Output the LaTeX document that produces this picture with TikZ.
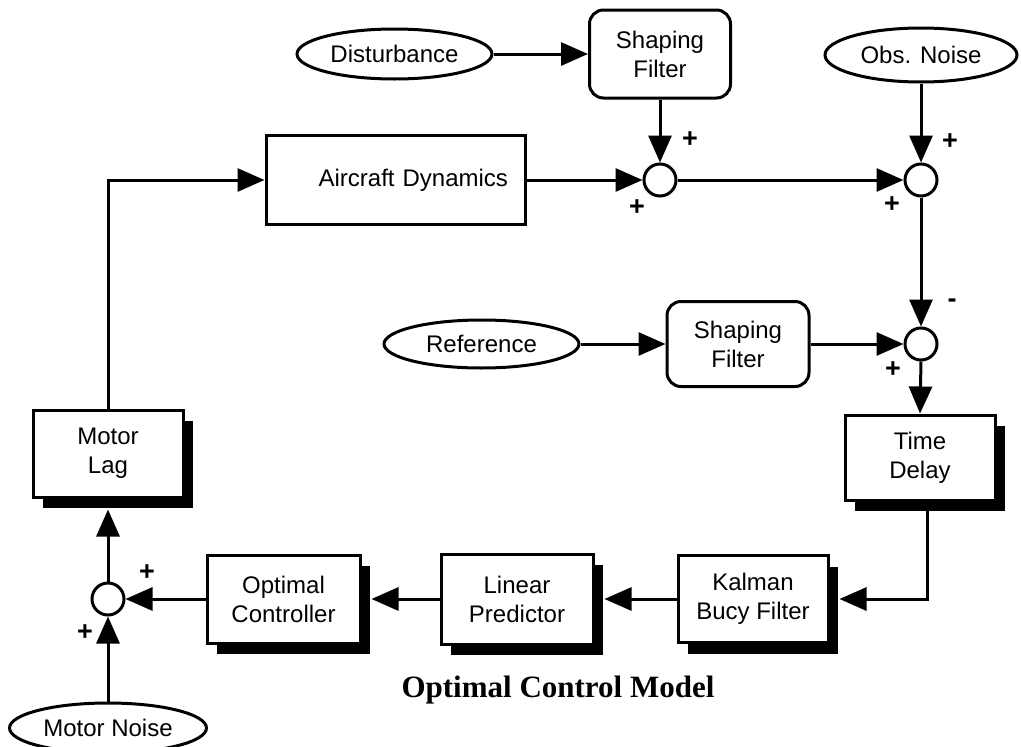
\documentclass[tikz,border=0pt]{standalone}
\usepackage{fontspec}
\setmainfont{Liberation Sans}
\newfontfamily\titleserif{Liberation Serif}
\usetikzlibrary{arrows.meta,shapes.geometric,shadows}
\begin{document}
\begin{tikzpicture}[x=1pt,y=-1pt,
  font=\fontsize{24}{29}\selectfont,
  every node/.style={line width=3pt, inner sep=0pt, align=center},
  arr/.style={line width=3pt, -{Triangle[length=27pt,width=23pt]}},
  blk/.style={draw, fill=white, rectangle},
  shblk/.style={draw, fill=white, rectangle,
     drop shadow={shadow xshift=10pt, shadow yshift=-11pt, fill=black, opacity=1}},
  rblk/.style={draw, fill=white, rectangle, rounded corners=14pt},
  src/.style={draw, ellipse},
  sumj/.style={draw, circle, minimum size=32pt, fill=white},
  sgn/.style={font=\bfseries\fontsize{27}{27}\selectfont}
]
\useasboundingbox (0,0) rectangle (1021,747);

% sources
\node[src, minimum width=195pt, minimum height=50pt] (dist) at (394.5,54) {Disturbance};
\node[src, minimum width=192pt, minimum height=54pt] (obs) at (921,55) {Obs. Noise};
\node[src, minimum width=195pt, minimum height=48pt] (ref) at (481.5,344) {Reference};
\node[src, minimum width=197pt, minimum height=50pt] (mn) at (108,728) {Motor Noise};

% filters
\node[rblk, minimum width=141pt, minimum height=88pt] (sf1) at (660,54) {Shaping\\Filter};
\node[rblk, minimum width=142pt, minimum height=85pt] (sf2) at (738,344) {Shaping\\Filter};

% aircraft dynamics
\node[blk, minimum width=259pt, minimum height=89pt, text width=225pt, align=right, inner xsep=17pt] (ac) at (395.5,180) {Aircraft Dynamics};

% shadowed blocks
\node[shblk, minimum width=150pt, minimum height=85pt] (td) at (920,457.5) {Time\\Delay};
\node[shblk, minimum width=150pt, minimum height=87pt] (ml) at (108,453.5) {Motor\\Lag};
\node[shblk, minimum width=153pt, minimum height=88pt] (oc) at (283.5,599) {Optimal\\Controller};
\node[shblk, minimum width=152pt, minimum height=90pt] (lp) at (517,599) {Linear\\Predictor};
\node[shblk, minimum width=150pt, minimum height=87pt] (kf) at (753,599) {Kalman\\Bucy Filter};

% summing junctions
\node[sumj] (s1) at (660,180) {};
\node[sumj] (s2) at (921,180) {};
\node[sumj] (s3) at (921,344) {};
\node[sumj] (s4) at (108,599) {};

% signs
\node[sgn] (p1a) at (690,140) {+};
\node[sgn] (p1b) at (637,208) {+};
\node[sgn] (p2a) at (950,142) {+};
\node[sgn] (p2b) at (892,205) {+};
\node[sgn] (m3a) at (952,303) {-};
\node[sgn] (p3b) at (893,370) {+};
\node[sgn] (p4a) at (147,573) {+};
\node[sgn] (p4b) at (85,633) {+};

% connectors
\draw[arr] (dist.east) -- (sf1.west);
\draw[arr] (sf1.south) -- (s1.north);
\draw[arr] (ac.east) -- (s1.west);
\draw[arr] (s1.east) -- (s2.west);
\draw[arr] (obs.south) -- (s2.north);
\draw[arr] (s2.south) -- (s3.north);
\draw[arr] (ref.east) -- (sf2.west);
\draw[arr] (sf2.east) -- (s3.west);
\draw[arr] (s3.south) -- (td.north);
\draw[arr] ([xshift=7pt]td.south) |- ([xshift=10pt]kf.east);
\draw[arr] (kf.west) -- ([xshift=10pt]lp.east);
\draw[arr] (lp.west) -- ([xshift=10pt]oc.east);
\draw[arr] (oc.west) -- (s4.east);
\draw[arr] (mn.north) -- (s4.south);
\draw[arr] (s4.north) -- ([yshift=-11pt]ml.south);
\draw[arr] (ml.north) |- (ac.west);

% title
\node[font=\titleserif\bfseries\fontsize{31}{31}\selectfont] (title) at (558,690) {Optimal Control Model};
\end{tikzpicture}
\end{document}
